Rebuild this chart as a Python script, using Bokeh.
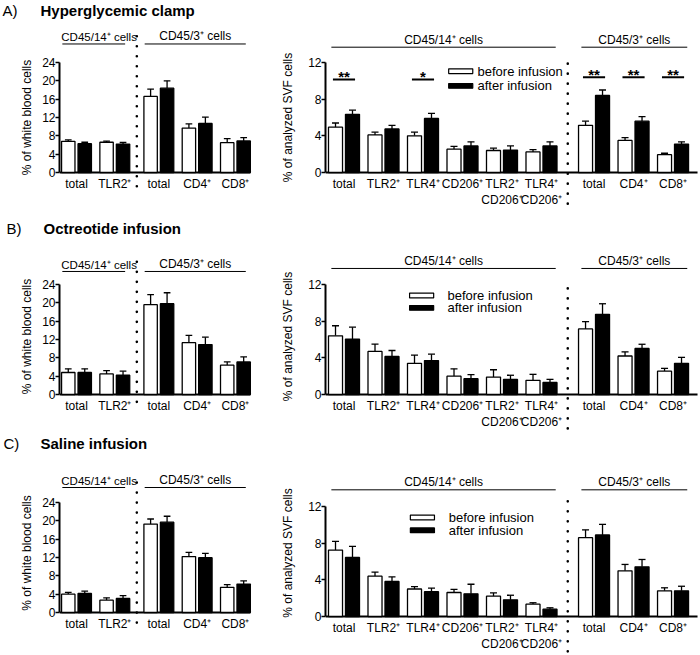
from bokeh.plotting import figure
from bokeh.layouts import column, row
from bokeh.models import Range1d, FixedTicker, Label
from bokeh.core.properties import value
from bokeh.embed import file_html
from bokeh.resources import INLINE

FONT = "Liberation Sans"

# ---------------- data ----------------
panel_labels = ["A)", "B)", "C)"]
panel_titles = ["Hyperglycemic clamp", "Octreotide infusion", "Saline infusion"]
series_names = ["before infusion", "after infusion"]

blood_categories = ["total", "TLR2⁺", "total", "CD4⁺", "CD8⁺"]
blood_groups = ["CD45/14⁺ cells", "CD45/3⁺ cells"]
blood_group_sizes = [2, 3]
blood_ticks = [0, 4, 8, 12, 16, 20, 24]
blood_ylabel = "% of white blood cells"

svf_categories = ["total", "TLR2⁺", "TLR4⁺", "CD206⁺", "TLR2⁺\nCD206⁺", "TLR4⁺\nCD206⁺",
                  "total", "CD4⁺", "CD8⁺"]
svf_groups = ["CD45/14⁺ cells", "CD45/3⁺ cells"]
svf_group_sizes = [6, 3]
svf_ticks = [0, 4, 8, 12]
svf_ylabel = "% of analyzed SVF cells"

# A) Hyperglycemic clamp
clamp_blood_before = [6.8, 6.6, 16.6, 9.7, 6.5]
clamp_blood_before_err = [0.3, 0.25, 1.6, 0.9, 0.9]
clamp_blood_after = [6.3, 6.2, 18.4, 10.7, 6.9]
clamp_blood_after_err = [0.3, 0.35, 1.6, 1.4, 0.7]
clamp_svf_before = [4.95, 4.1, 4.0, 2.55, 2.4, 2.25, 5.15, 3.5, 1.95]
clamp_svf_before_err = [0.45, 0.3, 0.4, 0.3, 0.25, 0.25, 0.45, 0.3, 0.15]
clamp_svf_after = [6.35, 4.75, 5.9, 2.9, 2.45, 2.9, 8.4, 5.6, 3.1]
clamp_svf_after_err = [0.45, 0.4, 0.55, 0.45, 0.45, 0.45, 0.6, 0.5, 0.25]
clamp_svf_significance = ["**", "", "*", "", "", "", "**", "**", "**"]

# B) Octreotide infusion
octreotide_blood_before = [4.8, 4.5, 19.6, 11.3, 6.4]
octreotide_blood_before_err = [0.8, 0.7, 2.2, 1.6, 0.7]
octreotide_blood_after = [4.8, 4.2, 19.8, 10.9, 7.1]
octreotide_blood_after_err = [0.8, 0.9, 2.4, 1.6, 1.1]
octreotide_svf_before = [6.4, 4.7, 3.4, 2.0, 1.9, 1.55, 7.15, 4.2, 2.55]
octreotide_svf_before_err = [1.1, 0.8, 0.9, 0.8, 0.8, 0.65, 0.8, 0.45, 0.3]
octreotide_svf_after = [6.05, 4.15, 3.7, 1.72, 1.65, 1.32, 8.75, 5.03, 3.4]
octreotide_svf_after_err = [1.3, 0.65, 0.7, 0.45, 0.45, 0.33, 1.15, 0.45, 0.65]

# C) Saline infusion
saline_blood_before = [4.0, 2.7, 19.3, 12.2, 5.5]
saline_blood_before_err = [0.4, 0.5, 1.1, 0.9, 0.6]
saline_blood_after = [4.15, 3.05, 19.7, 11.95, 6.2]
saline_blood_after_err = [0.5, 0.65, 1.3, 0.95, 0.7]
saline_svf_before = [7.25, 4.4, 3.0, 2.62, 2.22, 1.35, 8.6, 4.98, 2.8]
saline_svf_before_err = [0.95, 0.45, 0.25, 0.35, 0.35, 0.15, 0.85, 0.7, 0.33]
saline_svf_after = [6.45, 3.82, 2.7, 2.47, 1.82, 0.8, 8.9, 5.42, 2.8]
saline_svf_after_err = [1.2, 0.5, 0.4, 1.05, 0.5, 0.15, 1.15, 0.8, 0.5]

# ---------------- layout / styling ----------------
KIND = {
    "blood": dict(cats=blood_categories, groups=blood_groups, sizes=blood_group_sizes,
                  ticks=blood_ticks, ylabel=blood_ylabel, ppu_x=38.3, lead_px=17.0,
                  width=258, border=59, gap=0.15, off=0.215, bw=0.35, standoff=5,
                  grp_pad=(-0.37, 0.27), base_pad=0.39, label_shift=(0.14, 0.0),
                  grp_font=("11.5px", "12px")),
    "svf": dict(cats=svf_categories, groups=svf_groups, sizes=svf_group_sizes,
                ticks=svf_ticks, ylabel=svf_ylabel, ppu_x=39.5, lead_px=18.5,
                width=440, border=67, gap=0.33, off=0.215, bw=0.355, standoff=10,
                grp_pad=(-0.32, 0.36), base_pad=0.62, label_shift=(0.0, 0.0),
                grp_font=("12px", "12px")),
}
FRAME_H_PX = 110.0  # pixels between 0 and the top tick


def sub_figure(kind, row_h, zero_px, before, before_err, after, after_err,
               line_y, dots, legend=None, marks=None):
    k = KIND[kind]
    cats, sizes, ticks = k["cats"], k["sizes"], k["ticks"]
    ppu_y = FRAME_H_PX / ticks[-1]
    y0 = -(row_h - zero_px) / ppu_y
    y1 = zero_px / ppu_y
    x0 = -k["lead_px"] / k["ppu_x"]
    x1 = x0 + (k["width"] - k["border"]) / k["ppu_x"]

    p = figure(width=k["width"], height=row_h, x_range=Range1d(x0, x1), y_range=Range1d(y0, y1),
               x_axis_location=None, toolbar_location=None, output_backend="svg",
               min_border_left=k["border"], min_border_right=0, min_border_top=0,
               min_border_bottom=0)
    p.outline_line_color = None
    p.xgrid.visible = False
    p.ygrid.visible = False

    ax = p.yaxis[0]
    ax.ticker = FixedTicker(ticks=ticks)
    ax.bounds = (0, ticks[-1])
    ax.axis_label = k["ylabel"]
    ax.axis_label_text_font = FONT
    ax.axis_label_text_font_size = "12px"
    ax.axis_label_text_font_style = "normal"
    ax.axis_label_text_color = "black"
    ax.axis_label_standoff = k["standoff"]
    ax.major_label_text_font = FONT
    ax.major_label_text_font_size = "12px"
    ax.major_label_text_color = "black"
    ax.major_label_standoff = 0
    ax.axis_line_width = 2
    ax.axis_line_color = "black"
    ax.major_tick_line_width = 1.5
    ax.major_tick_line_color = "black"
    ax.major_tick_in = 0
    ax.major_tick_out = 4
    ax.minor_tick_line_color = None

    n = len(cats)
    pos = [i + (k["gap"] if i >= sizes[0] else 0) for i in range(n)]
    xb = [x - k["off"] for x in pos]
    xa = [x + k["off"] for x in pos]

    # baseline
    base_end = min(x1, pos[-1] + k["base_pad"])
    p.segment(x0=[x0], y0=[0], x1=[base_end], y1=[0], line_color="black", line_width=2)

    # error bars (upper only)
    cap = k["bw"] * 0.5
    for xs, vals, errs in ((xb, before, before_err), (xa, after, after_err)):
        tops = [v + e for v, e in zip(vals, errs)]
        p.segment(x0=xs, y0=vals, x1=xs, y1=tops, line_color="black", line_width=1.3)
        p.segment(x0=[x - cap / 2 for x in xs], y0=tops, x1=[x + cap / 2 for x in xs], y1=tops,
                  line_color="black", line_width=1.3)

    p.vbar(x=xb, top=before, bottom=0, width=k["bw"], fill_color="white",
           line_color="black", line_width=1.3)
    p.vbar(x=xa, top=after, bottom=0, width=k["bw"], fill_color="black",
           line_color="black", line_width=1.3)

    # category labels
    p.text(x=pos, y=[-4 / ppu_y] * n, text=cats, text_align="center", text_baseline="top",
           text_font=value(FONT), text_font_size="12px", text_line_height=1.15,
           text_color="black")

    # group labels with lines
    starts = [0, sizes[0]]
    ends = [sizes[0] - 1, n - 1]
    gx0 = [pos[s] + k["grp_pad"][0] for s in starts]
    gx1 = [min(pos[e] + k["grp_pad"][1], x1 - 0.05) for e in ends]
    p.segment(x0=gx0, y0=[line_y] * 2, x1=gx1, y1=[line_y] * 2, line_color="black",
              line_width=1)
    for a, b, txt, sh, fs in zip(gx0, gx1, k["groups"], k["label_shift"], k["grp_font"]):
        p.add_layout(Label(x=(a + b) / 2 + sh, y=line_y + 0.5 / ppu_y, text=txt,
                           text_align="center", text_baseline="bottom", text_font=FONT,
                           text_font_size=fs, text_color="black"))

    # dotted separator
    sx = (pos[sizes[0] - 1] + pos[sizes[0]]) / 2
    p.segment(x0=[sx], y0=[dots[0]], x1=[sx], y1=[dots[1]], line_color="black",
              line_width=2.6, line_dash="0 10", line_cap="round")

    # legend
    if legend is not None:
        lx0, lx1, wy, by, tx = legend
        hh = 0.26
        p.quad(left=[lx0], right=[lx1], bottom=[wy - hh], top=[wy + hh], fill_color="white",
               line_color="black", line_width=1.2)
        p.quad(left=[lx0], right=[lx1], bottom=[by - hh], top=[by + hh], fill_color="black",
               line_color="black", line_width=1.2)
        p.text(x=[tx, tx], y=[wy, by], text=series_names, text_align="left",
               text_baseline="middle", text_font=value(FONT), text_font_size="13px",
               text_color="black")

    # significance marks
    if marks is not None:
        mx, my, mt = [], [], []
        for i, m in enumerate(marks):
            if m:
                mx.append(pos[i])
                my.append(10.15 if i < sizes[0] else 10.4)
                mt.append(m)
        p.segment(x0=[x - 0.28 for x in mx], y0=my, x1=[x + 0.28 for x in mx], y1=my,
                  line_color="black", line_width=2)
        p.text(x=mx, y=[y + 3 / ppu_y for y in my], text=mt, text_align="center",
               text_baseline="middle", text_font=value(FONT), text_font_size="15px",
               text_font_style="bold", text_color="black")
    return p


def title_strip(h, mid_from_top, label, label_x, title, title_x):
    p = figure(width=698, height=h, x_range=Range1d(0, 698), y_range=Range1d(0, h),
               x_axis_location=None, y_axis_location=None, toolbar_location=None,
               output_backend="svg", min_border=0)
    p.outline_line_color = None
    p.xgrid.visible = False
    p.ygrid.visible = False
    y = h - mid_from_top
    p.text(x=[label_x], y=[y], text=[label], text_baseline="middle", text_align="left",
           text_font=value(FONT), text_font_size="15px", text_color="black")
    p.text(x=[title_x], y=[y], text=[title], text_baseline="middle", text_align="left",
           text_font=value(FONT), text_font_size="15px", text_font_style="bold",
           text_color="black")
    return p


# row A
tA = title_strip(20, 10, panel_labels[0], 2, panel_titles[0], 40)
lA = sub_figure("blood", 194, 152, clamp_blood_before, clamp_blood_before_err,
                clamp_blood_after, clamp_blood_after_err, line_y=28.04, dots=(-3.0, 30.3))
rA = sub_figure("svf", 194, 152, clamp_svf_before, clamp_svf_before_err,
                clamp_svf_after, clamp_svf_after_err, line_y=13.67, dots=(-3.4, 12.5),
                legend=(2.65, 3.26, 11.05, 9.45, 3.38), marks=clamp_svf_significance)
# row B
tB = title_strip(26, 14, panel_labels[1], 6, panel_titles[1], 43)
lB = sub_figure("blood", 192, 154, octreotide_blood_before, octreotide_blood_before_err,
                octreotide_blood_after, octreotide_blood_after_err, line_y=26.84,
                dots=(-1.6, 29.2))
rB = sub_figure("svf", 192, 154, octreotide_svf_before, octreotide_svf_before_err,
                octreotide_svf_after, octreotide_svf_after_err, line_y=13.75,
                dots=(-3.7, 12.3), legend=(1.66, 2.27, 10.8, 9.45, 2.62))
# row C
tC = title_strip(20, 11, panel_labels[2], 3, panel_titles[2], 40)
lC = sub_figure("blood", 201, 160, saline_blood_before, saline_blood_before_err,
                saline_blood_after, saline_blood_after_err, line_y=27.27, dots=(-2.2, 30.3))
rC = sub_figure("svf", 201, 164, saline_svf_before, saline_svf_before_err,
                saline_svf_after, saline_svf_after_err, line_y=13.82, dots=(-3.8, 12.65),
                legend=(1.68, 2.29, 10.8, 9.4, 2.65))

page = column(tA, row(lA, rA), tB, row(lB, rB), tC, row(lC, rC))

with open("out.html", "w") as f:
    f.write(file_html(page, INLINE))
